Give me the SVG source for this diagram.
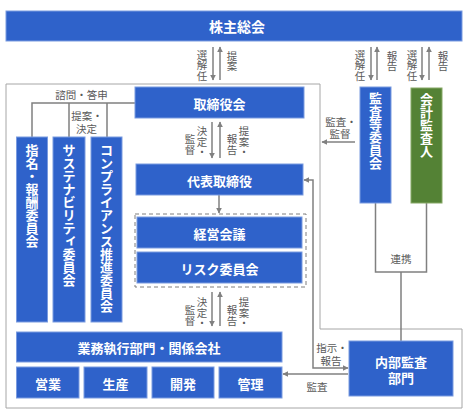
<svg xmlns="http://www.w3.org/2000/svg" width="467" height="419" viewBox="0 0 467 419">
<defs>
<style>
.box{fill:#2F62CA;stroke:#7A9BE0;stroke-width:1}
.green{fill:#548235;stroke:#86A866;stroke-width:1}
.lbl{font-family:"Noto Sans CJK JP",sans-serif;font-weight:bold;fill:#fff;font-size:13px;text-anchor:middle;dominant-baseline:central}
.sm{font-family:"Noto Sans CJK JP",sans-serif;fill:#595959;font-size:10.5px;text-anchor:middle;dominant-baseline:central}
.ln{fill:none;stroke:#808080;stroke-width:1.5}
.arr{fill:none;stroke:#808080;stroke-width:1.5;marker-end:url(#ah)}
.arr2{fill:none;stroke:#808080;stroke-width:1.5;marker-start:url(#ah);marker-end:url(#ah)}
</style>
<marker id="ah" viewBox="0 0 10 10" refX="9" refY="5" markerWidth="6" markerHeight="6" orient="auto-start-reverse" markerUnits="userSpaceOnUse">
<path d="M0,0 L10,5 L0,10 z" fill="#808080"/>
</marker>
</defs>

<polygon points="6,84 320,84 320,329 462,329 462,408 6,408" fill="none" stroke="#A6A6A6" stroke-width="1"/>

<g id="connectors">
<path class="ln" d="M135,103 H32 V137 M69,103 V137 M107,103 V137"/>
<path class="ln" d="M375.5,203 V272 H426.5 V203 M401,272 V341"/>
<path class="arr" d="M213,47 V80"/>
<path class="arr" d="M220,80 V47"/>
<path class="arr" d="M371,47 V80"/>
<path class="arr" d="M377,80 V47"/>
<path class="arr" d="M422,47 V80"/>
<path class="arr" d="M429,80 V47"/>
<path class="arr" d="M212,122 V158"/>
<path class="arr" d="M220,158 V122"/>
<path class="arr" d="M219,195 V213"/>
<path class="arr" d="M212,292 V326"/>
<path class="arr" d="M220,326 V292"/>
<path class="arr" d="M355,142 H322"/>
<path class="arr2" d="M304,180 H313 V368 H348"/>
<path class="arr" d="M348,374 H283"/>
</g>

<g id="labels">
<text class="sm" x="81.5" y="94">諮問・答申</text>
<text class="sm"><tspan x="87" y="115">提案・</tspan><tspan x="86.5" y="128">決定</tspan></text>
<text class="sm" x="202 202 202" y="54.25 64.75 75.25">選解任</text>
<text class="sm" x="232 232" y="55.25 65.75">提案</text>
<text class="sm" x="360 360 360" y="54.25 64.75 75.25">選解任</text>
<text class="sm" x="392 392" y="55.25 65.75">報告</text>
<text class="sm" x="412 412 412" y="54.25 64.75 75.25">選解任</text>
<text class="sm" x="443 443" y="55.25 65.75">報告</text>
<text class="sm" x="202 202 202" y="130.75 141.25 151.75">決定・</text>
<text class="sm" x="190 190" y="138.75 149.25">監督</text>
<text class="sm" x="244 244 244" y="130.75 141.25 151.75">提案・</text>
<text class="sm" x="232 232" y="138.75 149.25">報告</text>
<text class="sm" x="202 202 202" y="301.75 312.25 322.75">決定・</text>
<text class="sm" x="190 190" y="309.75 320.25">監督</text>
<text class="sm" x="244 244 244" y="301.75 312.25 322.75">提案・</text>
<text class="sm" x="232 232" y="309.75 320.25">報告</text>
<text class="sm"><tspan x="341" y="120.5">監査・</tspan><tspan x="340" y="133">監督</tspan></text>
<text class="sm" x="401" y="258">連携</text>
<text class="sm"><tspan x="332" y="346.5">指示・</tspan><tspan x="331" y="359.5">報告</tspan></text>
<text class="sm" x="317" y="386">監査</text>
</g>

<g id="shareholders">
<rect class="box" x="6" y="11" width="456" height="30"/>
<text class="lbl" x="237" y="26" style="font-size:14px">株主総会</text>
</g>
<g id="board">
<rect class="box" x="135" y="87" width="169" height="31"/>
<text class="lbl" x="219.5" y="103">取締役会</text>
</g>
<g id="nomination">
<rect class="box" x="16.5" y="137" width="31" height="185"/>
<text class="lbl" x="32 32 32 32 32 32 32 32" y="149.5 162.5 175.5 188.5 201.5 214.5 227.5 240.5">指名・報酬委員会</text>
</g>
<g id="sustainability">
<rect class="box" x="53" y="137" width="32" height="185"/>
<text class="lbl" x="69 69 69 69 69 69 69 71 69 69 69" y="149.5 162.5 175.5 188.5 201.5 214.5 227.5 238.5 253.5 266.5 279.5">サステナビリティ委員会</text>
</g>
<g id="compliance">
<rect class="box" x="91" y="137" width="31" height="185"/>
<text class="lbl" x="106.5 106.5 106.5 106.5 106.5 106.5 106.5 106.5 106.5 106.5 106.5 106.5 106.5" y="149.5 162.5 175.5 188.5 201.5 214.5 227.5 240.5 253.5 266.5 279.5 292.5 305.5">コンプライアンス推進委員会</text>
</g>
<g id="ceo">
<rect class="box" x="136" y="164" width="167" height="31"/>
<text class="lbl" x="219.5" y="180">代表取締役</text>
</g>
<g id="mgmt-group">
<rect x="135" y="214" width="171" height="73" fill="none" stroke="#7F7F7F" stroke-width="1" stroke-dasharray="4,3"/>
</g>
<g id="exec-meeting">
<rect class="box" x="137" y="217" width="165" height="31"/>
<text class="lbl" x="219.5" y="233">経営会議</text>
</g>
<g id="risk">
<rect class="box" x="137" y="252" width="165" height="31"/>
<text class="lbl" x="219.5" y="268">リスク委員会</text>
</g>
<g id="audit-committee">
<rect class="box" x="360" y="87" width="31" height="116"/>
<text class="lbl" x="375.5 375.5 375.5 375.5 375.5 375.5" y="97.5 110.5 123.5 136.5 149.5 162.5">監査等委員会</text>
</g>
<g id="accounting-auditor">
<rect class="green" x="411" y="88" width="31" height="115"/>
<text class="lbl" x="426.5 426.5 426.5 426.5 426.5" y="98.5 111.5 124.5 137.5 150.5">会計監査人</text>
</g>
<g id="business">
<rect class="box" x="16.5" y="332" width="265.5" height="30"/>
<text class="lbl" x="149" y="347">業務執行部門・関係会社</text>
</g>
<g id="sales">
<rect class="box" x="16.5" y="367" width="62.5" height="31"/>
<text class="lbl" x="48" y="383">営業</text>
</g>
<g id="production">
<rect class="box" x="84" y="367" width="63" height="31"/>
<text class="lbl" x="115.5" y="383">生産</text>
</g>
<g id="development">
<rect class="box" x="152" y="367" width="62" height="31"/>
<text class="lbl" x="183" y="383">開発</text>
</g>
<g id="admin">
<rect class="box" x="219" y="367" width="63" height="31"/>
<text class="lbl" x="250.5" y="383">管理</text>
</g>
<g id="internal-audit">
<rect class="box" x="349" y="341" width="104" height="55"/>
<text class="lbl"><tspan x="401" y="361">内部監査</tspan><tspan x="401" y="376.5">部門</tspan></text>
</g>
</svg>
